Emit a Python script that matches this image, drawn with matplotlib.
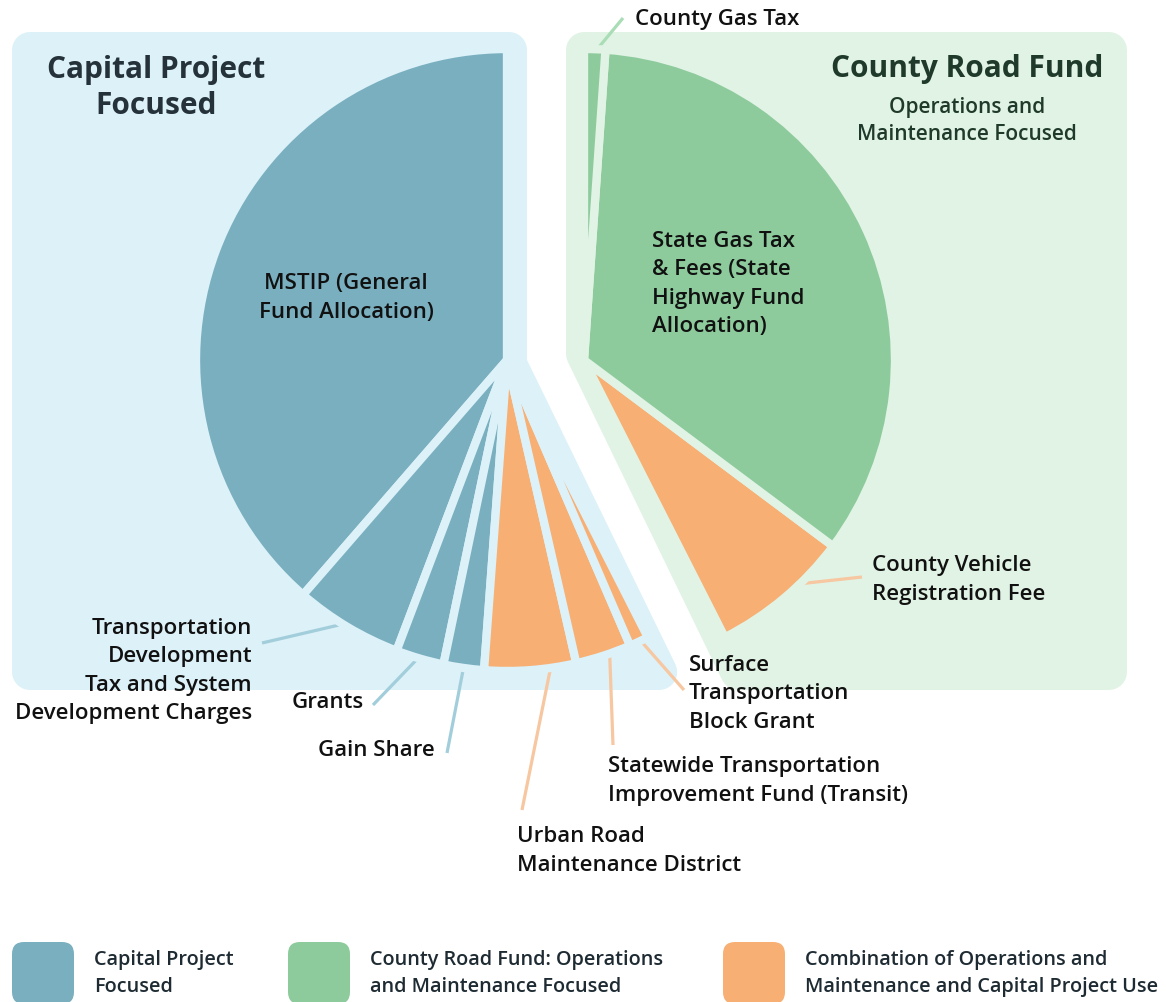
import numpy as np
import matplotlib
matplotlib.use("Agg")
import matplotlib.pyplot as plt
from matplotlib.patches import Polygon, FancyBboxPatch
from matplotlib import font_manager

# ---------------- data ----------------
sources = [
    "MSTIP (General\nFund Allocation)",
    "Transportation\nDevelopment\nTax and System\nDevelopment Charges",
    "Grants",
    "Gain Share",
    "Urban Road\nMaintenance District",
    "Statewide Transportation\nImprovement Fund (Transit)",
    "Surface\nTransportation\nBlock Grant",
    "County Vehicle\nRegistration Fee",
    "State Gas Tax\n& Fees (State\nHighway Fund\nAllocation)",
    "County Gas Tax",
]
shares = [38.6, 5.6, 2.5, 2.1, 4.75, 2.9, 1.0, 7.3, 34.1, 1.1]
use_type = ["capital", "capital", "capital", "capital",
            "combined", "combined", "combined", "combined",
            "road", "road"]
fund_side = ["left"] * 7 + ["right"] * 3
panel_titles = ["Capital Project\nFocused", "County Road Fund"]
panel_subtitle = "Operations and\nMaintenance Focused"
legend_keys = ["capital", "road", "combined"]
legend_labels = ["Capital Project\nFocused",
                 "County Road Fund: Operations\nand Maintenance Focused",
                 "Combination of Operations and\nMaintenance and Capital Project Use"]

# ---------------- style ----------------
colors = {"capital": "#79AFBF", "road": "#8DCB9C", "combined": "#F7AF73"}
leader_colors = {"capital": "#A2CEDB", "road": "#A9DDB6", "combined": "#F6C7A0"}
panel_colors = {"left": "#DCF1F8", "right": "#E1F3E5"}
W, H = 1166, 1002
FAM = "Open Sans"
names = {f.name for f in font_manager.fontManager.ttflist}
if FAM not in names:
    FAM = "DejaVu Sans"

def Y(v):
    return H - v

fig = plt.figure(figsize=(W / 100, H / 100), dpi=100)
ax = fig.add_axes([0, 0, 1, 1])

# ---------------- panels (rounded polygons) ----------------
def inset_polygon(pts, d):
    pts = np.asarray(pts, float)
    n = len(pts)
    area = 0.5 * np.sum(pts[:, 0] * np.roll(pts[:, 1], -1) - np.roll(pts[:, 0], -1) * pts[:, 1])
    sgn = 1 if area > 0 else -1
    lines = []
    for i in range(n):
        p, q = pts[i], pts[(i + 1) % n]
        dvec = (q - p) / np.linalg.norm(q - p)
        nrm = sgn * np.array([-dvec[1], dvec[0]])
        lines.append((p + nrm * d, dvec))
    out = []
    for i in range(n):
        p1, d1 = lines[i - 1]
        p2, d2 = lines[i]
        A = np.array([d1, -d2]).T
        t = np.linalg.solve(A, p2 - p1)
        out.append(p1 + t[0] * d1)
    return np.array(out)

slope = np.tan(np.radians(26))
rr = 18
left_pts = [(12, Y(32)), (527, Y(32)), (527, Y(360)), (527 + 330 * slope, Y(690)), (12, Y(690))]
right_pts = [(566, Y(32)), (1127, Y(32)), (1127, Y(690)), (566 + 330 * slope, Y(690)), (566, Y(358))]
for pts, side in [(left_pts, "left"), (right_pts, "right")]:
    ins = inset_polygon(pts, rr)
    ax.add_patch(Polygon(ins, closed=True, facecolor=panel_colors[side],
                         edgecolor=panel_colors[side], linewidth=2 * rr * 0.72,
                         joinstyle="round", zorder=1))

# ---------------- pie ----------------
R = 311
pie_center = (545.5, Y(360))
shift = {"left": -38.5, "right": 38.5}
wedges, _ = ax.pie(shares, startangle=90, counterclock=True, radius=R,
                   center=pie_center, colors=[colors[u] for u in use_type],
                   wedgeprops=dict(linewidth=6, joinstyle="round"))
for w, side in zip(wedges, fund_side):
    cx, cy = w.center
    w.set_center((cx + shift[side], cy))
    w.set_edgecolor(panel_colors[side])
    w.set_zorder(3)

# ---------------- labels & leaders ----------------
lab_kw = dict(fontsize=16, fontweight="semibold", family=FAM, color="#111111",
              linespacing=1.47, zorder=6)
# index: (text x, text y, ha, leader fraction, leader end x, leader end y)
label_layout = {
    0: (346, 298, "center", None, None, None),
    1: (252, 671, "right", 0.48, 262, 643),
    2: (292, 703, "left", 0.5, 373, 705),
    3: (318, 750, "left", 0.5, 447, 753),
    4: (517, 851, "left", 0.73, 522, 810),
    5: (608, 781, "left", 0.63, 613, 745),
    6: (689, 694, "left", 0.55, 684, 690),
    7: (872, 580, "left", 0.62, 862, 577),
    8: (652, 284, "left", None, None, None),
    9: (635, 19, "left", 0.5, 623, 18),
}
for i, (tx, ty, ha, f, lx, ly) in label_layout.items():
    ax.text(tx, Y(ty), sources[i], ha=ha, va="center", multialignment=ha, **lab_kw)
    if f is not None:
        w = wedges[i]
        th = np.radians(w.theta1 + f * (w.theta2 - w.theta1))
        cx, cy = w.center
        x0, y0 = cx + R * 0.99 * np.cos(th), cy + R * 0.99 * np.sin(th)
        ax.plot([x0, lx], [y0, Y(ly)], color=leader_colors[use_type[i]],
                lw=2.3, solid_capstyle="butt", zorder=2)

# ---------------- panel titles ----------------
ax.text(156, Y(88), panel_titles[0], ha="center", va="center", fontsize=21.5,
        fontweight="bold", family=FAM, color="#25323A", linespacing=1.3, zorder=6)
ax.text(967, Y(69), panel_titles[1], ha="center", va="center", fontsize=21.5,
        fontweight="bold", family=FAM, color="#1F3A2A", zorder=6)
ax.text(967, Y(121), panel_subtitle, ha="center", va="center", fontsize=15,
        fontweight="semibold", family=FAM, color="#1F3A2A", linespacing=1.4, zorder=6)

# ---------------- legend ----------------
leg_x = [12, 288, 723]
for x, key, lab in zip(leg_x, legend_keys, legend_labels):
    ax.add_patch(FancyBboxPatch((x, Y(1004)), 62, 62,
                                boxstyle="round,pad=0,rounding_size=12",
                                facecolor=colors[key], edgecolor="none", zorder=5))
    ax.text(x + 82, Y(973.5), lab, ha="left", va="center", fontsize=14.3,
            fontweight="semibold", family=FAM, color="#1E2B33",
            linespacing=1.42, zorder=6)

ax.set_xlim(0, W)
ax.set_ylim(0, H)
ax.set_aspect("auto")
ax.axis("off")
fig.savefig("out.png", dpi=100)
